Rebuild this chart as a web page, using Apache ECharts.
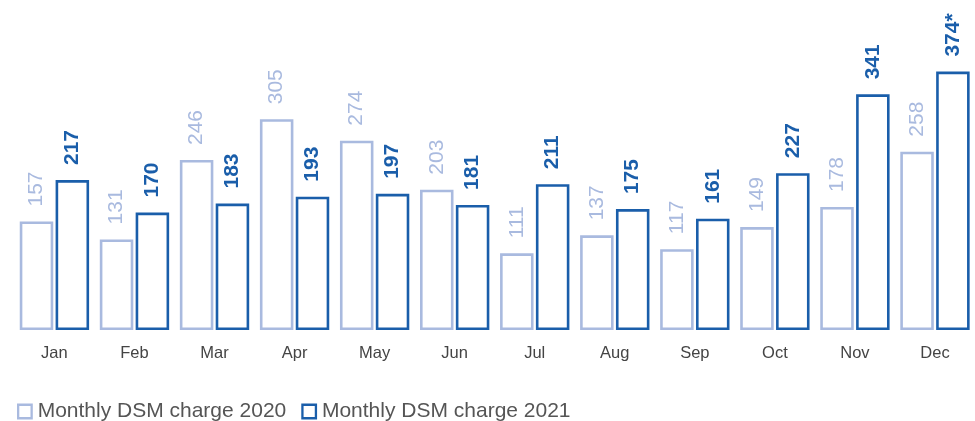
<!DOCTYPE html>
<html>
<head>
<meta charset="utf-8">
<style>
  html, body { margin: 0; padding: 0; background: #fff; }
  #chart { width: 975px; height: 421px; }
</style>
<script src="https://cdn.jsdelivr.net/npm/echarts@6/dist/echarts.min.js"></script>
</head>
<body>
<div id="chart"></div>
<script>
// Monthly DSM charges per month, 2020 vs 2021
const months = ['Jan', 'Feb', 'Mar', 'Apr', 'May', 'Jun', 'Jul', 'Aug', 'Sep', 'Oct', 'Nov', 'Dec'];
const charge2020 = [157, 131, 246, 305, 274, 203, 111, 137, 117, 149, 178, 258];
const charge2021 = [217, 170, 183, 193, 197, 181, 211, 175, 161, 227, 341, 374];
const labels2021 = ['217', '170', '183', '193', '197', '181', '211', '175', '161', '227', '341', '374*'];

const C2020 = '#a9badf';
const C2021 = '#1a5eaa';
const FONT = '"Liberation Sans", Arial, Helvetica, sans-serif';

const chart = echarts.init(document.getElementById('chart'), null, { renderer: 'canvas' });

chart.setOption({
  animation: false,
  textStyle: { fontFamily: FONT },
  grid: { left: 14.4, right: -1.6, top: 53.6, bottom: 91, containLabel: false },
  xAxis: {
    type: 'category',
    data: months,
    axisLine: { show: false },
    axisTick: { show: false },
    axisLabel: { color: '#444', fontSize: 16.5, margin: 15, fontFamily: FONT }
  },
  yAxis: {
    type: 'value',
    min: 0,
    max: 400,
    show: false,
    splitLine: { show: false }
  },
  legend: {
    left: 12,
    top: 396,
    icon: 'rect',
    itemWidth: 13.5,
    itemHeight: 13.5,
    itemGap: 15,
    textStyle: { color: '#555', fontSize: 21, fontFamily: FONT, padding: [0, 0, 0, 1] },
    data: [
      { name: 'Monthly DSM charge 2020', itemStyle: { color: '#fff', borderColor: C2020, borderWidth: 2.3 } },
      { name: 'Monthly DSM charge 2021', itemStyle: { color: '#fff', borderColor: C2021, borderWidth: 2.3 } }
    ]
  },
  series: [
    {
      name: 'Monthly DSM charge 2020',
      type: 'bar',
      data: charge2020,
      barWidth: 33.5,
      barGap: '7%',
      itemStyle: { color: '#fff', borderColor: C2020, borderWidth: 2.6 },
      label: {
        show: true,
        position: 'top',
        rotate: 90,
        align: 'left',
        verticalAlign: 'middle',
        distance: 15,
        color: C2020,
        fontSize: 21,
        fontFamily: FONT
      }
    },
    {
      name: 'Monthly DSM charge 2021',
      type: 'bar',
      data: charge2021,
      barWidth: 33.5,
      itemStyle: { color: '#fff', borderColor: C2021, borderWidth: 2.6 },
      label: {
        show: true,
        position: 'top',
        rotate: 90,
        align: 'left',
        verticalAlign: 'middle',
        distance: 15,
        color: C2021,
        fontSize: 21,
        fontWeight: 'bold',
        fontFamily: FONT,
        formatter: (p) => labels2021[p.dataIndex]
      }
    }
  ]
});
</script>
</body>
</html>
